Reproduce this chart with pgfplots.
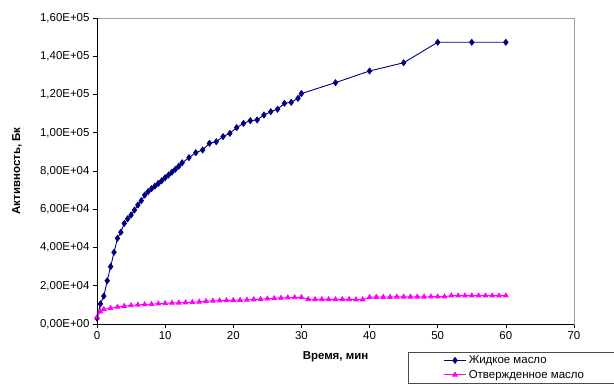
\documentclass[border=0pt]{standalone}
\usepackage{pgfplots}
\pgfplotsset{compat=1.18}
\usepackage{fontspec}
\setmainfont{Liberation Sans}
\definecolor{navyb}{RGB}{0,0,128}
\definecolor{mag}{RGB}{255,0,255}
\newcommand{\fs}{\fontsize{11.5}{13.5}\selectfont}
\begin{document}
\begin{tikzpicture}
\useasboundingbox (0,0) rectangle (614bp,387bp);
\clip (0,0) rectangle (614bp,387bp);
\fill[white] (0,0) rectangle (614bp,387bp);
\begin{axis}[
  at={(97bp,63bp)}, anchor=south west,
  scale only axis, width=477bp, height=306bp,
  xmin=0, xmax=70, ymin=0, ymax=160000,
  xtick={0,10,...,70},
  ytick={0,20000,40000,60000,80000,100000,120000,140000,160000},
  yticklabels={{0,00E+00},{2,00E+04},{4,00E+04},{6,00E+04},{8,00E+04},{1,00E+05},{1,20E+05},{1,40E+05},{1,60E+05}},
  scaled y ticks=false,
  /pgf/number format/assume math mode=true,
  tick label style={font=\fs},
  tick align=outside, xtick pos=bottom, ytick pos=left,
  major tick length=4bp, tick style={black, line width=0.6bp},
  axis line style={draw=gray!75, line width=0.8bp},
  clip=false,
  every axis x label/.style={at={(axis description cs:0.5,0)}, yshift=-33bp, anchor=center},
  every axis y label/.style={at={(axis description cs:0,0.5)}, xshift=-80bp, rotate=90, anchor=center},
  xlabel={\fs\bfseries Время, мин},
  ylabel={\fs\bfseries Активность, Бк},
  legend style={at={(axis description cs:0.652,-0.09)}, anchor=north west,
    draw=black!70, fill=white, font=\fs, inner xsep=35bp, inner ysep=2bp,
    row sep=1bp, cells={anchor=west}},
  legend image code/.code={\draw[mark repeat=2,mark phase=2] plot coordinates {(0cm,0cm) (0.4cm,0cm) (0.8cm,0cm)};},
  after end axis/.code={\draw[black, line width=0.8bp] (rel axis cs:0,1) -- (rel axis cs:0,0) -- (rel axis cs:1,0);},
]
\addplot[color=navyb, line width=0.9bp, mark=diamond*, mark size=2.9pt, mark options={fill=navyb}] coordinates {
(0,3000) (0.5,10500) (1,14600) (1.5,22600) (2,30000) (2.5,37500) (3,44800) (3.5,48000)
(4,52600) (4.5,55000) (5,57000) (5.5,59600) (6,62200) (6.5,64500) (7,67400) (7.5,69200)
(8,70800) (8.5,72100) (9,73500) (9.5,74900) (10,76500) (10.5,77900) (11,79400) (11.5,80900)
(12,82500) (12.5,84300) (13.5,87000) (14.5,89600) (15.5,91000) (16.5,94500) (17.5,95300)
(18.5,98000) (19.5,99700) (20.5,102700) (21.5,104900) (22.5,106300) (23.5,106700)
(24.5,109300) (25.5,111000) (26.5,112300) (27.5,115400) (28.5,115900) (29.5,118000)
(30,120500) (35,126200) (40,132300) (45,136600) (50,147300) (55,147300) (60,147300)
};
\addlegendentry{\makebox[150bp][l]{Жидкое масло}}
\addplot[color=mag, line width=0.9bp, mark=triangle*, mark size=2.6pt, mark options={fill=mag}] coordinates {
(0,3500) (0.5,6500) (1,7700) (2,8300) (3,8900) (4,9400) (5,9700) (6,10000) (7,10200)
(8,10400) (9,10600) (10,10800) (11,11000) (12,11100) (13,11200) (14,11400) (15,11600)
(16,11900) (17,12100) (18,12200) (19,12300) (20,12400) (21,12500) (22,12600) (23,12800)
(24,13000) (25,13200) (26,13400) (27,13600) (28,13800) (29,13900) (30,14000)
(31,13000) (32,12900) (33,12900) (34,12900) (35,12900) (36,12900) (37,12900) (38,12800) (39,12800)
(40,14000) (41,14100) (42,14100) (43,14100) (44,14200) (45,14200) (46,14200) (47,14200)
(48,14200) (49,14300) (50,14300) (51,14300)
(52,14800) (53,14800) (54,14800) (55,14800) (56,14800) (57,14800) (58,14800) (59,14800) (60,14800)
};
\addlegendentry{\makebox[150bp][l]{Отвержденное масло}}
\end{axis}
\end{tikzpicture}
\end{document}
